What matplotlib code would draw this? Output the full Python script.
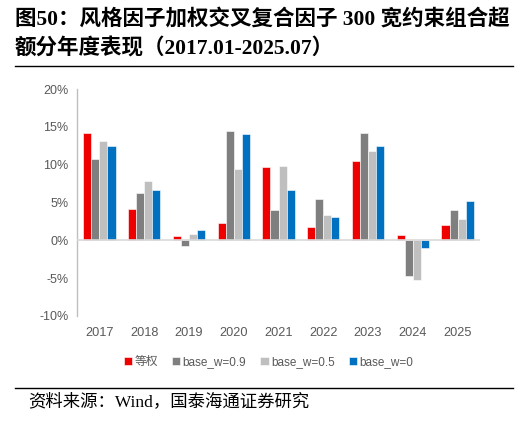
import matplotlib
matplotlib.use("Agg")
import matplotlib.pyplot as plt
import numpy as np
from matplotlib.ticker import FuncFormatter

years = ["2017", "2018", "2019", "2020", "2021", "2022", "2023", "2024", "2025"]
series_names = ["等权", "base_w=0.9", "base_w=0.5", "base_w=0"]
eq = [14.2, 4.2, 0.6, 2.3, 9.7, 1.8, 10.5, 0.7, 2.0]
w09 = [10.7, 6.2, -0.7, 14.4, 4.0, 5.5, 14.2, -4.7, 4.0]
w05 = [13.1, 7.8, 0.9, 9.4, 9.8, 3.3, 11.8, -5.2, 2.8]
w0 = [12.5, 6.7, 1.4, 14.1, 6.6, 3.1, 12.5, -1.0, 5.2]
colors = ["#EE0000", "#7F7F7F", "#BFBFBF", "#0070C0"]

W, H = 520, 426
fig = plt.figure(figsize=(W / 100, H / 100), dpi=100)
ax = fig.add_axes([77 / W, 1 - 316 / H, (480 - 77) / W, (316 - 89) / H])

x = np.arange(len(years))
bw = 0.18
data = [eq, w09, w05, w0]
for i, (vals, c, name) in enumerate(zip(data, colors, series_names)):
    ax.bar(x + (i - 1.5) * bw, vals, width=bw, color=c, edgecolor="white",
           linewidth=0.4, label=name, zorder=2)

ax.set_xlim(-0.5, len(years) - 0.5)
ax.set_ylim(-10, 20)
ax.set_yticks(np.arange(-10, 21, 5))
ax.yaxis.set_major_formatter(FuncFormatter(lambda v, p: f"{int(v)}%"))
ax.set_xticks(x)
ax.set_xticklabels(years)
ax.axhline(0, color="#D9D9D9", linewidth=1.2, zorder=3)
for s in ["top", "right", "bottom"]:
    ax.spines[s].set_visible(False)
ax.spines["left"].set_color("#BFBFBF")
ax.spines["left"].set_linewidth(1.0)
ax.tick_params(axis="y", length=0, labelsize=9, labelcolor="#595959", pad=6,
               labelfontfamily="Liberation Sans")
ax.tick_params(axis="x", length=0, labelsize=9.2, labelcolor="#595959", pad=8,
               labelfontfamily="Liberation Sans")

leg = ax.legend(loc="center", bbox_to_anchor=(0.5 - 10 / 403, (316 - 362) / (316 - 89)),
                ncol=4, frameon=False, handlelength=0.7, handleheight=0.7,
                handletextpad=0.2, columnspacing=1.2,
                prop={"family": ["Liberation Sans", "Noto Sans CJK SC"], "size": 8.5})
for t in leg.get_texts():
    t.set_color("#595959")

title_fam = ["Liberation Serif", "Noto Sans CJK SC"]
fig.text(15 / W, 1 - 19 / H, "图50：风格因子加权交叉复合因子 300 宽约束组合超",
         fontsize=15.5, fontweight="bold", family=title_fam, va="center", ha="left")
fig.text(15 / W, 1 - 49 / H, "额分年度表现（2017.01-2025.07）",
         fontsize=15.5, fontweight="bold", family=title_fam, va="center", ha="left")

fig.add_artist(plt.Line2D([15 / W, 513 / W], [1 - 66 / H, 1 - 66 / H],
                          color="black", linewidth=1.0))
fig.add_artist(plt.Line2D([15 / W, 513 / W], [1 - 388 / H, 1 - 388 / H],
                          color="black", linewidth=1.0))
fig.text(28 / W, 1 - 402 / H, "资料来源：Wind，国泰海通证券研究",
         fontsize=12.5, family=title_fam, va="center", ha="left")

fig.savefig("out.png", dpi=100)
